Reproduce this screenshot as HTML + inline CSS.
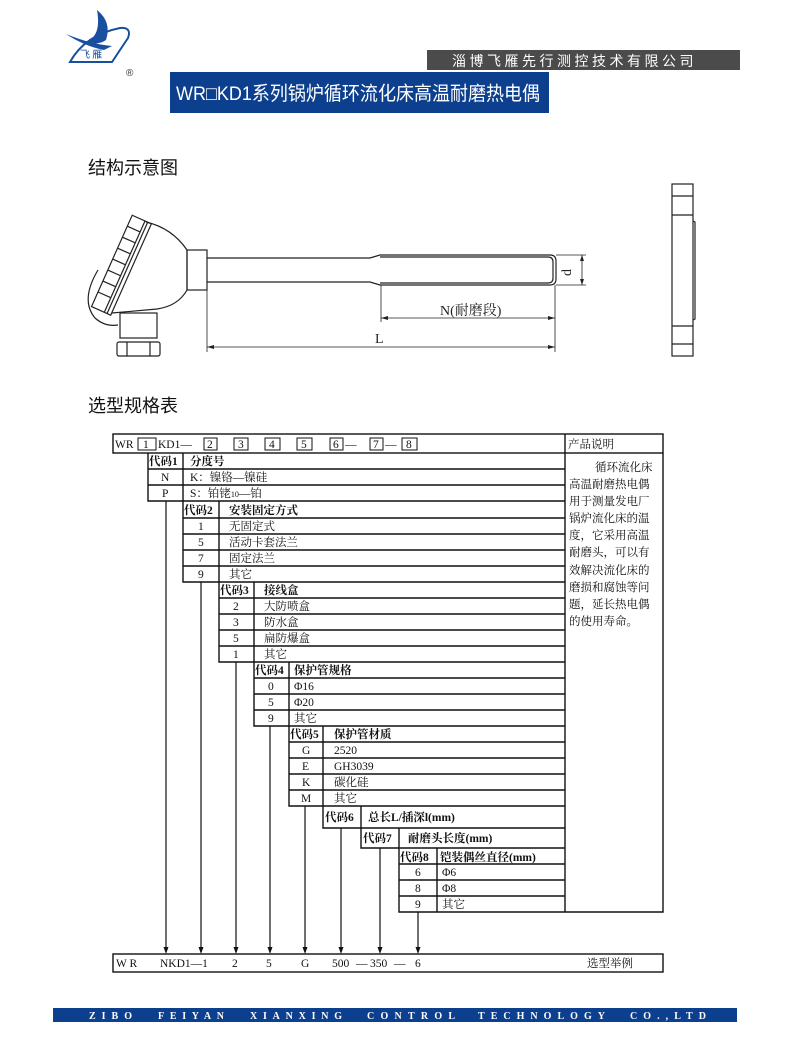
<!DOCTYPE html>
<html><head><meta charset="utf-8"><style>
html,body{margin:0;padding:0;background:#fff;}
body{width:800px;height:1047px;overflow:hidden;position:relative;}
svg{position:absolute;left:0;top:0;}
.t{font-family:"Liberation Serif","Noto Serif CJK SC",serif;font-size:11.5px;fill:#111;}
.b{font-weight:bold;}
</style></head><body>
<svg width="800" height="1047" viewBox="0 0 800 1047" xmlns="http://www.w3.org/2000/svg">
<g fill="none" stroke="#1a4fa0" stroke-width="2">
<path d="M70 62 Q85 35 120 28 Q132 27 128 38 L112 62 Z"/>
</g>
<path d="M97 10 Q112 22 106 40 Q98 46 84 42 Q102 38 97 10 Z" fill="#1a4fa0"/>
<path d="M66 34 Q90 44 112 46 L104 50 Q84 46 66 34 Z" fill="#1a4fa0"/>
<text x="80" y="58" font-family="Noto Sans CJK SC,sans-serif" font-size="10" fill="#1a4fa0">飞 雁</text>
<text x="126" y="76" font-family="Liberation Sans,sans-serif" font-size="10" fill="#333">®</text>
<rect x="427" y="50" width="313" height="20" fill="#4b4b4b"/>
<text x="452" y="66" font-family="Liberation Sans,'Noto Sans CJK SC',sans-serif" font-size="14" fill="#fff" letter-spacing="3.5">淄博飞雁先行测控技术有限公司</text>
<rect x="170" y="72" width="379" height="41" fill="#0d3f8f"/>
<text x="176" y="100" font-family="Liberation Sans,'Noto Sans CJK SC',sans-serif" font-size="19.5" fill="#fff" textLength="364" lengthAdjust="spacingAndGlyphs">WR□KD1系列锅炉循环流化床高温耐磨热电偶</text>
<text x="88" y="174" font-family="Liberation Sans,'Noto Sans CJK SC',sans-serif" font-size="18" fill="#111">结构示意图</text>
<text x="88" y="412" font-family="Liberation Sans,'Noto Sans CJK SC',sans-serif" font-size="18" fill="#111">选型规格表</text>

<g fill="none" stroke="#222" stroke-width="1.2">
<path d="M146 222 Q172 228 187 250 L187 290 Q178 306 157 309 L112 313"/>
<rect x="187" y="250" width="20" height="40"/>
<path d="M207 258 L370 258 L380 255 L550 255 Q556 255 556 261 L556 279 Q556 285 550 285 L380 285 L370 282 L207 282"/>
<path d="M380 257 L548 257 Q553 257 553 262 L553 278 Q553 283 548 283 L380 283"/>
<g transform="translate(121 265) rotate(24)">
<rect x="-10" y="-50" width="21" height="100"/>
<line x1="4" y1="-50" x2="4" y2="50"/><line x1="7" y1="-50" x2="7" y2="50"/>
<line x1="-10" y1="-38" x2="4" y2="-38"/><line x1="-10" y1="-26" x2="4" y2="-26"/><line x1="-10" y1="-14" x2="4" y2="-14"/><line x1="-10" y1="-2" x2="4" y2="-2"/><line x1="-10" y1="10" x2="4" y2="10"/><line x1="-10" y1="22" x2="4" y2="22"/><line x1="-10" y1="34" x2="4" y2="34"/>
</g>
<path d="M98 270 Q80 300 95 318 Q105 327 118 325"/>
<rect x="120" y="313" width="37" height="25"/>
<rect x="117" y="342" width="43" height="14" rx="2"/>
<line x1="127" y1="342" x2="127" y2="356"/><line x1="150" y1="342" x2="150" y2="356"/>
<rect x="672" y="184" width="21" height="172"/>
<line x1="672" y1="196" x2="693" y2="196"/><line x1="672" y1="215" x2="693" y2="215"/>
<line x1="672" y1="326" x2="693" y2="326"/><line x1="672" y1="344" x2="693" y2="344"/>
<path d="M693 221 L695 222 L695 319 L693 320"/>
</g>
<g stroke="#222" stroke-width="0.8" fill="none">
<line x1="207" y1="290" x2="207" y2="352"/><line x1="555" y1="285" x2="555" y2="352"/><line x1="381" y1="285" x2="381" y2="322"/>
<line x1="207" y1="347" x2="555" y2="347"/><line x1="381" y1="318" x2="555" y2="318"/>
<line x1="556" y1="255" x2="586" y2="255"/><line x1="556" y1="285" x2="586" y2="285"/><line x1="582" y1="255" x2="582" y2="285"/>
</g>
<g fill="#222"><path d="M207 347 l7 -2 v4z"/><path d="M555 347 l-7 -2 v4z"/><path d="M381 318 l7 -2 v4z"/><path d="M555 318 l-7 -2 v4z"/><path d="M582 255 l-2 6 h4z"/><path d="M582 285 l-2 -6 h4z"/></g>
<text x="440" y="315" font-family="Liberation Serif,'Noto Serif CJK SC',serif" font-size="14" fill="#222">N(耐磨段)</text>
<text x="375" y="343" font-family="Liberation Serif,serif" font-size="14" fill="#222">L</text>
<text x="0" y="0" font-family="Liberation Serif,serif" font-size="14" fill="#222" transform="translate(571 276) rotate(-90)">d</text>

<g fill="none" stroke="#111" stroke-width="1.4">
<rect x="113" y="434" width="550" height="19"/>
<line x1="565" y1="434" x2="565" y2="912"/>
<path d="M565 912 L663 912 L663 453"/>
<path d="M148 453 V501 H565"/><line x1="183" y1="453" x2="183" y2="501"/>
<line x1="148" y1="469" x2="565" y2="469"/><line x1="148" y1="485" x2="565" y2="485"/>
<path d="M183 501 V582 H565"/><line x1="219" y1="501" x2="219" y2="582"/>
<line x1="183" y1="518" x2="565" y2="518"/><line x1="183" y1="534" x2="565" y2="534"/><line x1="183" y1="550" x2="565" y2="550"/><line x1="183" y1="566" x2="565" y2="566"/>
<path d="M219 582 V662 H565"/><line x1="254" y1="582" x2="254" y2="662"/>
<line x1="219" y1="598" x2="565" y2="598"/><line x1="219" y1="614" x2="565" y2="614"/><line x1="219" y1="630" x2="565" y2="630"/><line x1="219" y1="646" x2="565" y2="646"/>
<path d="M254 662 V726 H565"/><line x1="289" y1="662" x2="289" y2="726"/>
<line x1="254" y1="678" x2="565" y2="678"/><line x1="254" y1="694" x2="565" y2="694"/><line x1="254" y1="710" x2="565" y2="710"/>
<path d="M289 726 V806 H565"/><line x1="323" y1="726" x2="323" y2="806"/>
<line x1="289" y1="742" x2="565" y2="742"/><line x1="289" y1="758" x2="565" y2="758"/><line x1="289" y1="774" x2="565" y2="774"/><line x1="289" y1="790" x2="565" y2="790"/>
<path d="M323 806 V828 H565"/><line x1="361" y1="806" x2="361" y2="828"/>
<path d="M361 828 V848 H565"/><line x1="399" y1="828" x2="399" y2="848"/>
<path d="M399 848 V912 H565"/><line x1="437" y1="848" x2="437" y2="912"/>
<line x1="399" y1="864" x2="565" y2="864"/><line x1="399" y1="880" x2="565" y2="880"/><line x1="399" y1="896" x2="565" y2="896"/>
<rect x="113" y="954" width="550" height="18"/>
</g>
<g fill="none" stroke="#111" stroke-width="1">
<rect x="138" y="438" width="18" height="12"/><rect x="204" y="438" width="13" height="12"/><rect x="234" y="438" width="14" height="12"/><rect x="265" y="438" width="15" height="12"/><rect x="297" y="438" width="15" height="12"/><rect x="330" y="438" width="13" height="12"/><rect x="370" y="438" width="13" height="12"/><rect x="402" y="438" width="15" height="12"/>
</g>
<g class="t">
<text x="115" y="448">WR</text><text x="143" y="448">1</text><text x="158" y="448">KD1—</text><text x="207" y="448">2</text><text x="238" y="448">3</text><text x="269" y="448">4</text><text x="301" y="448">5</text><text x="333" y="448">6</text><text x="345" y="448">—</text><text x="373" y="448">7</text><text x="385" y="448">—</text><text x="406" y="448">8</text>
<text x="568" y="448">产品说明</text>
</g>
<g stroke="#111" stroke-width="1.2">
<line x1="166" y1="501" x2="166" y2="950"/><line x1="201" y1="582" x2="201" y2="950"/><line x1="236" y1="662" x2="236" y2="950"/><line x1="270" y1="726" x2="270" y2="950"/><line x1="305" y1="806" x2="305" y2="950"/><line x1="341" y1="828" x2="341" y2="950"/><line x1="380" y1="848" x2="380" y2="950"/><line x1="418" y1="912" x2="418" y2="950"/>
</g>
<g fill="#111">
<path d="M166 954 l-2.5 -7 h5z"/><path d="M201 954 l-2.5 -7 h5z"/><path d="M236 954 l-2.5 -7 h5z"/><path d="M270 954 l-2.5 -7 h5z"/><path d="M305 954 l-2.5 -7 h5z"/><path d="M341 954 l-2.5 -7 h5z"/><path d="M380 954 l-2.5 -7 h5z"/><path d="M418 954 l-2.5 -7 h5z"/>
</g>
<g class="t">
<text x="149" y="465" class="b">代码1</text><text x="190" y="465" class="b">分度号</text>
<text x="161" y="481">N</text><text x="190" y="481">K：镍铬—镍硅</text>
<text x="162" y="497">P</text><text x="190" y="497">S：铂铑<tspan font-size="8">10</tspan>—铂</text>
<text x="184" y="514" class="b">代码2</text><text x="229" y="514" class="b">安装固定方式</text>
<text x="198" y="530">1</text><text x="229" y="530">无固定式</text>
<text x="198" y="546">5</text><text x="229" y="546">活动卡套法兰</text>
<text x="198" y="562">7</text><text x="229" y="562">固定法兰</text>
<text x="198" y="578">9</text><text x="229" y="578">其它</text>
<text x="220" y="594" class="b">代码3</text><text x="264" y="594" class="b">接线盒</text>
<text x="233" y="610">2</text><text x="264" y="610">大防喷盒</text>
<text x="233" y="626">3</text><text x="264" y="626">防水盒</text>
<text x="233" y="642">5</text><text x="264" y="642">扁防爆盒</text>
<text x="233" y="658">1</text><text x="264" y="658">其它</text>
<text x="255" y="674" class="b">代码4</text><text x="294" y="674" class="b">保护管规格</text>
<text x="268" y="690">0</text><text x="294" y="690">Φ16</text>
<text x="268" y="706">5</text><text x="294" y="706">Φ20</text>
<text x="268" y="722">9</text><text x="294" y="722">其它</text>
<text x="290" y="738" class="b">代码5</text><text x="334" y="738" class="b">保护管材质</text>
<text x="302" y="754">G</text><text x="334" y="754">2520</text>
<text x="302" y="770">E</text><text x="334" y="770">GH3039</text>
<text x="302" y="786">K</text><text x="334" y="786">碳化硅</text>
<text x="301" y="802">M</text><text x="334" y="802">其它</text>
<text x="325" y="821" class="b">代码6</text><text x="368" y="821" class="b">总长L/插深l(mm)</text>
<text x="363" y="842" class="b">代码7</text><text x="408" y="842" class="b">耐磨头长度(mm)</text>
<text x="400" y="861" class="b">代码8</text><text x="440" y="861" class="b">铠装偶丝直径(mm)</text>
<text x="415" y="876">6</text><text x="442" y="876">Φ6</text>
<text x="415" y="892">8</text><text x="442" y="892">Φ8</text>
<text x="415" y="908">9</text><text x="442" y="908">其它</text>
<text x="116" y="967">W R</text><text x="160" y="967">NKD1—1</text><text x="232" y="967">2</text><text x="266" y="967">5</text><text x="301" y="967">G</text><text x="332" y="967">500</text><text x="356" y="967">—</text><text x="370" y="967">350</text><text x="394" y="967">—</text><text x="415" y="967">6</text><text x="587" y="967">选型举例</text>
</g>
<g class="t" font-size="11.5">
<text x="595" y="471">循环流化床</text>
<text x="569" y="488">高温耐磨热电偶</text>
<text x="569" y="505">用于测量发电厂</text>
<text x="569" y="522">锅炉流化床的温</text>
<text x="569" y="539">度，它采用高温</text>
<text x="569" y="556">耐磨头，可以有</text>
<text x="569" y="574">效解决流化床的</text>
<text x="569" y="591">磨损和腐蚀等问</text>
<text x="569" y="608">题，延长热电偶</text>
<text x="569" y="625">的使用寿命。</text>
</g>
<rect x="53" y="1008" width="684" height="14" fill="#0d3f8f"/>
<g font-family="Liberation Serif,serif" font-size="10" font-weight="bold" fill="#fff">
<text x="89" y="1019" textLength="43" lengthAdjust="spacing">ZIBO</text>
<text x="158" y="1019" textLength="66" lengthAdjust="spacing">FEIYAN</text>
<text x="250" y="1019" textLength="92" lengthAdjust="spacing">XIANXING</text>
<text x="367" y="1019" textLength="88" lengthAdjust="spacing">CONTROL</text>
<text x="478" y="1019" textLength="127" lengthAdjust="spacing">TECHNOLOGY</text>
<text x="630" y="1019" textLength="76" lengthAdjust="spacing">CO.,LTD</text>
</g>
</svg>
</body></html>
